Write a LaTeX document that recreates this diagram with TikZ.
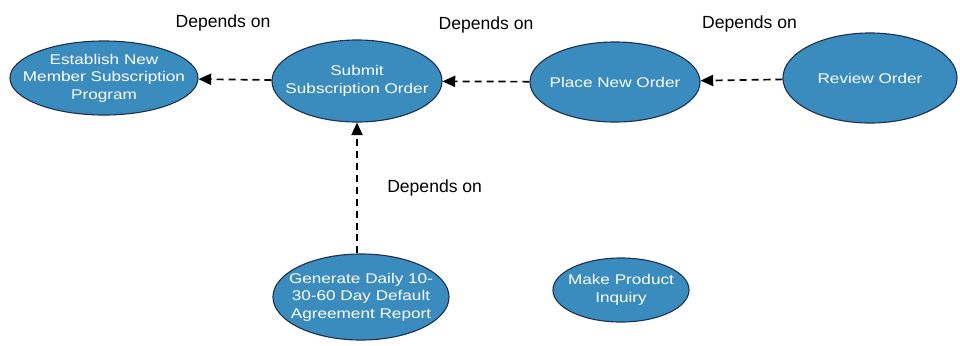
\documentclass[tikz,border=0pt]{standalone}
\usepackage{fontspec}
\setmainfont{Liberation Sans}
\newfontfamily\ovalfont[FakeStretch=1.22]{Liberation Sans}
\usetikzlibrary{shapes.geometric, positioning, arrows.meta}
\definecolor{ovalblue}{RGB}{58,140,190}
\definecolor{ovaledge}{RGB}{30,50,80}

\begin{document}
\begin{tikzpicture}[
        x=0.025cm, y=-0.025cm,
        every node/.style={inner sep=1pt},
        usecase/.style={
            ellipse,
            fill=ovalblue,
            draw=ovaledge,
            line width=0.8pt,
            text=white,
            align=center,
            inner xsep=-0.7cm,
            inner ysep=-0.3cm,
            font=\ovalfont\fontsize{10}{12.5}\selectfont
        },
        depends/.style={
            dashed,
            dash pattern=on 5pt off 3.5pt,
            line width=1.2pt,
            -{Triangle[length=9pt, width=8pt]}
        },
        dlabel/.style={font=\fontsize{12.5}{14}\selectfont}
    ]
        \useasboundingbox (0,0) rectangle (960,345);

        % Use cases, top row
        \node[usecase, minimum width=4.7cm, minimum height=1.85cm] (Establish) at (104,78) {Establish New\\Member Subscription\\Program};
        \node[usecase, minimum width=4.25cm, minimum height=2.05cm] (Submit) at (357,81) {Submit\\Subscription Order};
        \node[usecase, minimum width=4.25cm, minimum height=2.0cm] (Place) at (615,82) {Place New Order};
        \node[usecase, minimum width=4.35cm, minimum height=2.25cm] (Review) at (870,78) {Review Order};

        % Use cases, bottom row
        \node[usecase, minimum width=4.4cm, minimum height=2.15cm] (Generate) at (361,297) {Generate Daily 10-\\30-60 Day Default\\Agreement Report};
        \node[usecase, minimum width=3.4cm, minimum height=1.6cm] (Inquiry) at (621,290) {Make Product\\Inquiry};

        % Dependencies
        \draw[depends] (Submit) -- node[dlabel, above=1.15cm, xshift=-0.3cm] {Depends on} (Establish);
        \draw[depends] (Place) -- node[dlabel, above=1.15cm] {Depends on} (Submit);
        \draw[depends] (Review) -- node[dlabel, above=1.15cm, xshift=0.2cm] {Depends on} (Place);
        \draw[depends] (Generate.north -| Submit.south) -- node[dlabel, right=0.7cm] {Depends on} (Submit.south);
    \end{tikzpicture}
\end{document}
